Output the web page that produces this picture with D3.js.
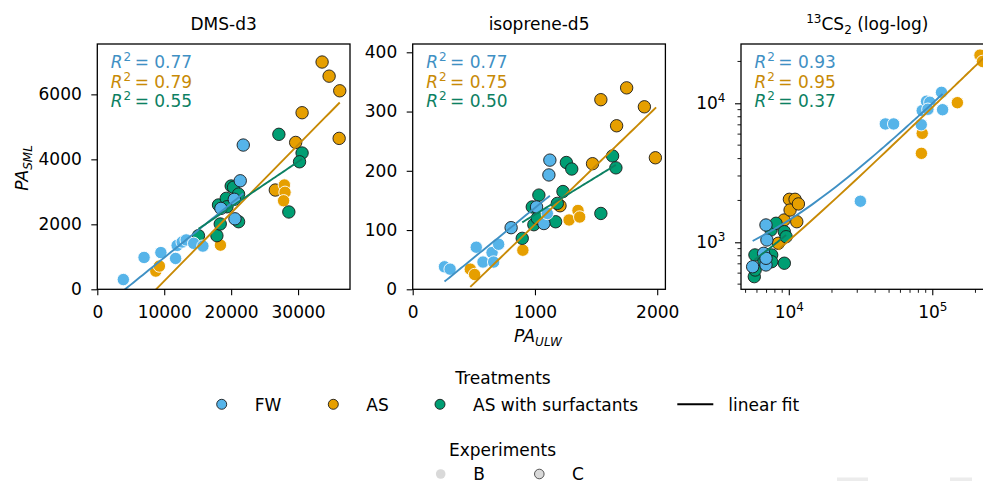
<!DOCTYPE html>
<html>
<head>
<meta charset="utf-8">
<script src="https://cdn.jsdelivr.net/npm/d3@7"></script>
<style>
body { margin: 0; background: #fff; }
svg text { font-family: "DejaVu Sans", sans-serif; }
</style>
</head>
<body>
<svg width="983" height="481"></svg>
<script>
var dmsFW = [[3890,300,'B'],[6990,980,'B'],[9500,1130,'B'],[11700,950,'B'],[11930,1350,'B'],[12680,1455,'B'],
    [13280,1520,'B'],[14400,1415,'B'],[15780,1330,'B'],[18470,2490,'C'],[20570,2170,'C'],[20470,2770,'C'],
    [21360,3340,'C'],[21810,4440,'C']];
var dmsAS = [[8740,560,'B'],[9280,715,'B'],[18400,1360,'B'],[26600,3055,'C'],[27950,3210,'B'],[28050,2985,'B'],
    [27840,2725,'B'],[29640,4520,'C'],[30600,5435,'C'],[33590,6995,'C'],[34640,6560,'C'],[36230,6110,'C'],[36140,4645,'C']];
var dmsASS = [[15120,1650,'C'],[17870,1650,'C'],[18370,2010,'C'],[18110,2595,'C'],[19270,2800,'C'],[20010,3180,'C'],
    [20360,3140,'C'],[21110,2930,'C'],[21110,2080,'C'],[19370,2540,'C'],[27130,4770,'C'],[30600,4195,'C'],
    [30220,3925,'C'],[28620,2380,'C']];

var isoFW = [[260,38,'B'],[306,34,'B'],[520,71,'B'],[575,46,'B'],[649,62,'B'],[662,46,'B'],[703,76,'B'],
    [805,104,'C'],[1013,139,'C'],[1073,111,'C'],[1101,128,'B'],[1122,218,'C'],[1114,193,'C']];
var isoAS = [[471,34,'B'],[506,25,'B'],[901,66,'B'],[1205,141,'C'],[1279,117,'B'],[1352,133,'B'],[1366,122,'B'],
    [1471,212,'C'],[1539,320,'C'],[1750,340,'C'],[1895,308,'C'],[1668,276,'C'],[1985,222,'C']];
var isoASS = [[896,86,'C'],[978,139,'C'],[991,109,'C'],[1032,159,'C'],[1019,120,'C'],[1169,114,'C'],[1183,145,'C'],
    [1229,165,'C'],[1257,214,'C'],[1301,203,'C'],[1539,128,'C'],[1635,225,'C'],[1662,205,'C']];

var cs2FW = [[5600,667,'C'],[6935,1332,'C'],[7040,1039,'C'],[6680,833,'C'],[6935,687,'C'],[6940,767,'C'],
    [31550,1974,'B'],[47100,7100,'B'],[53800,7100,'B'],[83800,7010,'B'],[85100,8850,'B'],[91200,10340,'B'],
    [96200,10170,'B'],[93200,9060,'B'],[116000,11990,'B'],[118000,8990,'B']];
var cs2AS = [[8460,984,'C'],[9270,1446,'C'],[10100,2038,'C'],[11060,2038,'C'],[10210,1706,'C'],[11670,1888,'C'],
    [11370,1406,'C'],[85100,6080,'B'],[84000,4365,'B'],[149600,10100,'B'],[215000,22200,'B'],[223800,20000,'B']];
var cs2ASS = [[5750,566,'C'],[5830,632,'C'],[5810,811,'C'],[6710,733,'C'],[7200,811,'C'],[7600,811,'C'],
    [7520,1226,'C'],[8150,1370,'C'],[9310,707,'C'],[9310,1192,'C'],[9580,1097,'C'],[7600,725,'C']];

// fit lines as [x0, y0, x1, y1] per treatment (FW, AS, AS with surfactants)
var dmsFit = [[3890,-43,21810,2946],[8740,-10,36230,5750],[15120,1860,30600,4010]];
var isoFit = [[260,13,1122,158],[471,4,1991,307],[896,113,1662,210]];
var cs2Fit = [[5600,1022,118000,11680],[8460,883,227000,21090],[5750,747,9580,1128]];

var dmsR2 = ['0.77','0.79','0.55'];
var isoR2 = ['0.77','0.75','0.50'];
var cs2R2 = ['0.93','0.95','0.37'];

var dmsXTicks = [0,10000,20000,30000], dmsYTicks = [0,2000,4000,6000];
var isoXTicks = [0,1000,2000], isoYTicks = [0,100,200,300,400];
var cs2XTicks = [1e4,1e5], cs2YTicks = [1e3,1e4];

var treatments = ['FW','AS','AS with surfactants'];
var experiments = ['B','C'];
var fill = ['#56B4E9','#E69F00','#009E73'];
var dark = ['#3f90c4','#c88a06','#0c8062'];

var svg = d3.select('svg');
var plotTop = 44, plotBottom = 289.3, pw = 252.7;

var panels = [
    {title: 'DMS-d3', left: 97.3, data: [dmsFW, dmsAS, dmsASS], fit: dmsFit, r2: dmsR2,
     x: d3.scaleLinear().domain([0, 37760]), y: d3.scaleLinear().domain([0, 7550]),
     xt: dmsXTicks, yt: dmsYTicks, log: false},
    {title: 'isoprene-d5', left: 412.7, data: [isoFW, isoAS, isoASS], fit: isoFit, r2: isoR2,
     x: d3.scaleLinear().domain([0, 2067]), y: d3.scaleLinear().domain([0, 414]),
     xt: isoXTicks, yt: isoYTicks, log: false},
    {title: 'CS2', left: 741, data: [cs2FW, cs2AS, cs2ASS], fit: cs2Fit, r2: cs2R2,
     x: d3.scaleLog().domain([4645, 268000]), y: d3.scaleLog().domain([459, 26700]),
     xt: cs2XTicks, yt: cs2YTicks, log: true}
];

function supLabel(sel) {
    // 10^k labels
    sel.each(function(d) {
        var t = d3.select(this).text('');
        t.append('tspan').text('10');
        t.append('tspan').attr('font-size', 12).attr('dy', -7).text(Math.round(Math.log10(d)));
    });
}

function minorTicks(dom) {
    var out = [];
    for (var e = 2; e <= 5; e++) {
        for (var m = 2; m <= 9; m++) {
            var v = m * Math.pow(10, e);
            if (v >= dom[0] && v <= dom[1]) out.push(v);
        }
    }
    return out;
}

panels.forEach(function(p, pi) {
    var x = p.x.range([p.left, p.left + pw]);
    var y = p.y.range([plotBottom, plotTop]);

    svg.append('clipPath').attr('id', 'clip' + pi)
      .append('rect')
        .attr('x', p.left).attr('y', plotTop)
        .attr('width', pw).attr('height', plotBottom - plotTop);

    // axes
    var xa = d3.axisBottom(x).tickValues(p.xt).tickSize(6).tickPadding(11);
    var ya = d3.axisLeft(y).tickValues(p.yt).tickSize(6).tickPadding(9.5);
    if (!p.log) {
        xa.tickFormat(d3.format('d'));
        ya.tickFormat(d3.format('d'));
    }
    var gx = svg.append('g')
        .attr('transform', 'translate(0,' + plotBottom + ')')
        .call(xa);
    var gy = svg.append('g')
        .attr('transform', 'translate(' + p.left + ',0)')
        .call(ya);
    [gx, gy].forEach(function(g) {
        g.select('.domain').remove();
        g.attr('font-size', 17).attr('font-family', '"DejaVu Sans", sans-serif');
        g.selectAll('line').attr('stroke', '#000').attr('stroke-width', 1.1);
        g.selectAll('text').attr('fill', '#000');
    });
    if (p.log) {
        gx.selectAll('.tick text').call(supLabel);
        gy.selectAll('.tick text').call(supLabel);
        gx.selectAll('.minor').data(minorTicks(x.domain())).enter().append('line')
            .attr('x1', function(d) { return x(d); }).attr('x2', function(d) { return x(d); })
            .attr('y1', 0).attr('y2', 3.5)
            .attr('stroke', '#000').attr('stroke-width', 0.9);
        gy.selectAll('.minor').data(minorTicks(y.domain())).enter().append('line')
            .attr('y1', function(d) { return y(d); }).attr('y2', function(d) { return y(d); })
            .attr('x1', 0).attr('x2', -3.5)
            .attr('stroke', '#000').attr('stroke-width', 0.9);
    }

    var g = svg.append('g').attr('clip-path', 'url(#clip' + pi + ')');

    // points: AS, AS with surfactants, then FW on top
    [1, 2, 0].forEach(function(ti) {
        g.selectAll(null)
            .data(p.data[ti]).enter().append('circle')
            .attr('cx', function(d) { return x(d[0]); })
            .attr('cy', function(d) { return y(d[1]); })
            .attr('r', 6.2)
            .attr('fill', fill[ti])
            .attr('stroke', function(d) { return d[2] == 'C' ? '#1a1a1a' : '#fff'; })
            .attr('stroke-width', 0.9);
    });

    // linear fits (straight in data space, so curved on the log-log panel)
    var line = d3.line()
        .x(function(d) { return x(d[0]); })
        .y(function(d) { return y(d[1]); });
    p.fit.forEach(function(f, ti) {
        var pts = d3.range(0, 1.0001, 0.02).map(function(t) {
            return [f[0] + t * (f[2] - f[0]), f[1] + t * (f[3] - f[1])];
        });
        g.append('path')
            .datum(pts)
            .attr('fill', 'none')
            .attr('stroke', dark[ti])
            .attr('stroke-width', 1.9)
            .attr('d', line);
    });

    // frame
    svg.append('rect')
        .attr('x', p.left).attr('y', plotTop)
        .attr('width', pw).attr('height', plotBottom - plotTop)
        .attr('fill', 'none').attr('stroke', '#000').attr('stroke-width', 1.3);

    // R^2 labels
    p.r2.forEach(function(r, ti) {
        var t = svg.append('text')
            .attr('x', p.left + 13.5)
            .attr('y', 68.3 + ti * 19.5)
            .attr('font-size', 17)
            .attr('fill', dark[ti]);
        t.append('tspan').attr('font-style', 'italic').text('R');
        t.append('tspan').attr('font-size', 12).attr('dy', -7).attr('dx', 1).text('2');
        t.append('tspan').attr('dy', 7).text('\u2009= ' + r);
    });

    // title
    var tt = svg.append('text')
        .attr('x', p.left + pw / 2)
        .attr('y', 30)
        .attr('text-anchor', 'middle')
        .attr('font-size', 17);
    if (p.log) {
        tt.append('tspan').attr('font-size', 12).attr('dy', -7).text('13');
        tt.append('tspan').attr('dy', 7).text('CS');
        tt.append('tspan').attr('font-size', 12).attr('dy', 4).text('2');
        tt.append('tspan').attr('dy', -4).text(' (log-log)');
    } else {
        tt.text(p.title);
    }
});

// axis labels
var yl = svg.append('text')
    .attr('transform', 'translate(28,168) rotate(-90)')
    .attr('text-anchor', 'middle')
    .attr('font-size', 17)
    .attr('font-style', 'italic');
yl.append('tspan').text('PA');
yl.append('tspan').attr('font-size', 12).attr('dy', 4).text('SML');

var xl = svg.append('text')
    .attr('x', 538)
    .attr('y', 342)
    .attr('text-anchor', 'middle')
    .attr('font-size', 17)
    .attr('font-style', 'italic');
xl.append('tspan').text('PA');
xl.append('tspan').attr('font-size', 12).attr('dy', 4).text('ULW');

// legend: treatments
svg.append('text')
    .attr('x', 503).attr('y', 384.3)
    .attr('text-anchor', 'middle').attr('font-size', 17)
    .text('Treatments');
var legX = [221.7, 333.3, 440];
treatments.forEach(function(t, i) {
    svg.append('circle')
        .attr('cx', legX[i]).attr('cy', 404.3).attr('r', 5)
        .attr('fill', fill[i]).attr('stroke', '#1a1a1a').attr('stroke-width', 0.9);
    svg.append('text')
        .attr('x', legX[i] + 33).attr('y', 410.5)
        .attr('font-size', 17)
        .text(t);
});
svg.append('line')
    .attr('x1', 677.3).attr('x2', 713.3)
    .attr('y1', 404.3).attr('y2', 404.3)
    .attr('stroke', '#000').attr('stroke-width', 2);
svg.append('text')
    .attr('x', 728.3).attr('y', 410.5)
    .attr('font-size', 17)
    .text('linear fit');

// legend: experiments
svg.append('text')
    .attr('x', 502.5).attr('y', 455.7)
    .attr('text-anchor', 'middle').attr('font-size', 17)
    .text('Experiments');
var expX = [440.7, 539.3];
experiments.forEach(function(e, i) {
    svg.append('circle')
        .attr('cx', expX[i]).attr('cy', 474).attr('r', 4.8)
        .attr('fill', '#d9d9d9')
        .attr('stroke', i == 1 ? '#444' : 'none').attr('stroke-width', 0.9);
    svg.append('text')
        .attr('x', expX[i] + 32.6).attr('y', 480)
        .attr('font-size', 17)
        .text(e);
});

// faint boxes at the bottom edge
svg.append('rect').attr('x', 837).attr('y', 477.5).attr('width', 31).attr('height', 4).attr('fill', '#ececec');
svg.append('rect').attr('x', 950).attr('y', 477.5).attr('width', 22).attr('height', 4).attr('fill', '#ececec');
</script>
</body>
</html>
